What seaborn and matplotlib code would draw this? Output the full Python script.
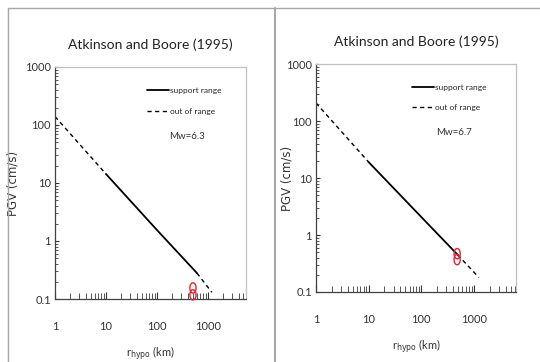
import matplotlib
matplotlib.use("Agg")
import matplotlib.pyplot as plt
import seaborn as sns
import numpy as np
import pandas as pd
from matplotlib.lines import Line2D
from matplotlib.path import Path
from matplotlib.ticker import LogLocator, FixedLocator, NullFormatter
from matplotlib import font_manager as fm

sns.set_style("white")
_names = {f.name for f in fm.fontManager.ttflist}
if "Liberation Sans Narrow" in _names:
    FONT = "Liberation Sans Narrow"
    FS_TITLE, FS_LEG, FS_MW, FS_TICK, FS_XL = 11.5, 7, 8, 8.5, 8.5
else:
    FONT = "Lato"
    FS_TITLE, FS_LEG, FS_MW, FS_TICK, FS_XL = 10, 6, 7, 8, 8
plt.rcParams['font.family'] = [FONT, 'DejaVu Sans']

title_text = "Atkinson and Boore (1995)"
legend_labels = ["support range", "out of range"]
x_tick_vals = [1, 10, 100, 1000]
x_tick_labels = ["1", "10", "100", "1000"]
y_tick_vals = [0.1, 1, 10, 100, 1000]
y_tick_labels = ["0.1", "1", "10", "100", "1000"]

# Left panel (Mw=6.3)
l_dash1_r = [1, 10]
l_dash1_pgv = [140, 14.3]
l_solid_r = [10, 100, 610]
l_solid_pgv = [14.3, 1.55, 0.28]
l_dash2_r = [610, 1200]
l_dash2_pgv = [0.28, 0.13]
l_obs_r = [510, 510]
l_obs_pgv = [0.155, 0.118]

# Right panel (Mw=6.7)
r_dash1_r = [1, 10]
r_dash1_pgv = [207, 19]
r_solid_r = [10, 100, 490]
r_solid_pgv = [19, 2.07, 0.45]
r_dash2_r = [490, 1240]
r_dash2_pgv = [0.45, 0.18]
r_obs_r = [480, 480]
r_obs_pgv = [0.47, 0.37]

fig = plt.figure(figsize=(5.4, 3.62), dpi=100)

# ellipse marker
t = np.linspace(0, 2 * np.pi, 40)
ell = Path(np.column_stack([0.6 * np.cos(t), np.sin(t)]))

def panel(rect, xmax, d1r, d1p, sr, sp, d2r, d2p, obr, obp, mw, ylab_x):
    ax = fig.add_axes(rect)
    sns.lineplot(x=d1r, y=d1p, ax=ax, color="black", lw=1.0, linestyle=(0, (3, 2.5)))
    sns.lineplot(x=sr, y=sp, ax=ax, color="black", lw=1.3)
    sns.lineplot(x=d2r, y=d2p, ax=ax, color="black", lw=1.0, linestyle=(0, (3, 2.5)))
    sns.scatterplot(x=obr, y=obp, ax=ax, marker=ell, s=55, facecolor="none",
                    edgecolor="#e8202a", linewidth=1.0, zorder=5, clip_on=False)
    ax.set_xscale("log")
    ax.set_yscale("log")
    ax.set_xlim(1, xmax)
    ax.set_ylim(0.1, 1000)
    ax.xaxis.set_major_locator(FixedLocator(x_tick_vals))
    ax.set_xticklabels(x_tick_labels)
    ax.yaxis.set_major_locator(FixedLocator(y_tick_vals))
    ax.set_yticklabels(y_tick_labels)
    ax.xaxis.set_minor_locator(LogLocator(base=10, subs=np.arange(2, 10)))
    ax.yaxis.set_minor_locator(LogLocator(base=10, subs=np.arange(2, 10)))
    ax.xaxis.set_minor_formatter(NullFormatter())
    ax.yaxis.set_minor_formatter(NullFormatter())
    ax.tick_params(axis="x", which="major", direction="in", length=5, width=0.8,
                   pad=16, labelsize=FS_TICK, colors="#333333")
    ax.tick_params(axis="x", which="minor", direction="in", length=4, width=0.7, colors="#555555")
    ax.tick_params(axis="y", which="major", direction="in", length=3, width=0.8,
                   pad=3, labelsize=FS_TICK, colors="#333333")
    ax.tick_params(axis="y", which="minor", direction="in", length=2, width=0.7, colors="#555555")
    ax.tick_params(bottom=True, left=True, which="both")
    for s in ["top", "right"]:
        ax.spines[s].set_color("#c0c0c0")
        ax.spines[s].set_linewidth(0.9)
    for s in ["left", "bottom"]:
        ax.spines[s].set_color("#404040")
        ax.spines[s].set_linewidth(0.9)
    ax.set_title(title_text, fontsize=FS_TITLE, color="#222222", pad=13)
    ax.set_xlabel(r"r$_{\rm hypo}$ (km)", fontsize=FS_XL, color="#333333", labelpad=9)
    ax.set_ylabel("PGV (cm/s)", fontsize=8.5, family="DejaVu Sans", color="#333333")
    ax.yaxis.set_label_coords(ylab_x, 0.5)
    handles = [Line2D([], [], color="black", lw=1.3),
               Line2D([], [], color="black", lw=1.0, linestyle=(0, (3, 2.5)))]
    ax.legend(handles, legend_labels, loc="upper left", frameon=False, fontsize=FS_LEG,
              handlelength=2.7, handletextpad=0.1, labelspacing=1.6,
              bbox_to_anchor=(0.44, 0.945))
    ax.text(0.6, 0.69, mw, transform=ax.transAxes, fontsize=FS_MW, color="#333333")
    return ax

panel([55 / 540, 1 - 299 / 362, 191 / 540, 232 / 362], 5600,
      l_dash1_r, l_dash1_pgv, l_solid_r, l_solid_pgv, l_dash2_r, l_dash2_pgv,
      l_obs_r, l_obs_pgv, "Mw=6.3", -36 / 191)
panel([316 / 540, 1 - 292 / 362, 200 / 540, 228 / 362], 6300,
      r_dash1_r, r_dash1_pgv, r_solid_r, r_solid_pgv, r_dash2_r, r_dash2_pgv,
      r_obs_r, r_obs_pgv, "Mw=6.7", -23 / 200)

# outer frames
gc = "#a8a8a8"
fig.add_artist(Line2D([8 / 540, 8 / 540], [0, 1 - 8 / 362], color=gc, lw=1.0, transform=fig.transFigure))
fig.add_artist(Line2D([8 / 540, 1], [1 - 8 / 362, 1 - 8 / 362], color=gc, lw=1.0, transform=fig.transFigure))
fig.add_artist(Line2D([275 / 540, 275 / 540], [0, 1 - 8 / 362], color=gc, lw=1.5, transform=fig.transFigure))

fig.savefig("out.png", dpi=100)
